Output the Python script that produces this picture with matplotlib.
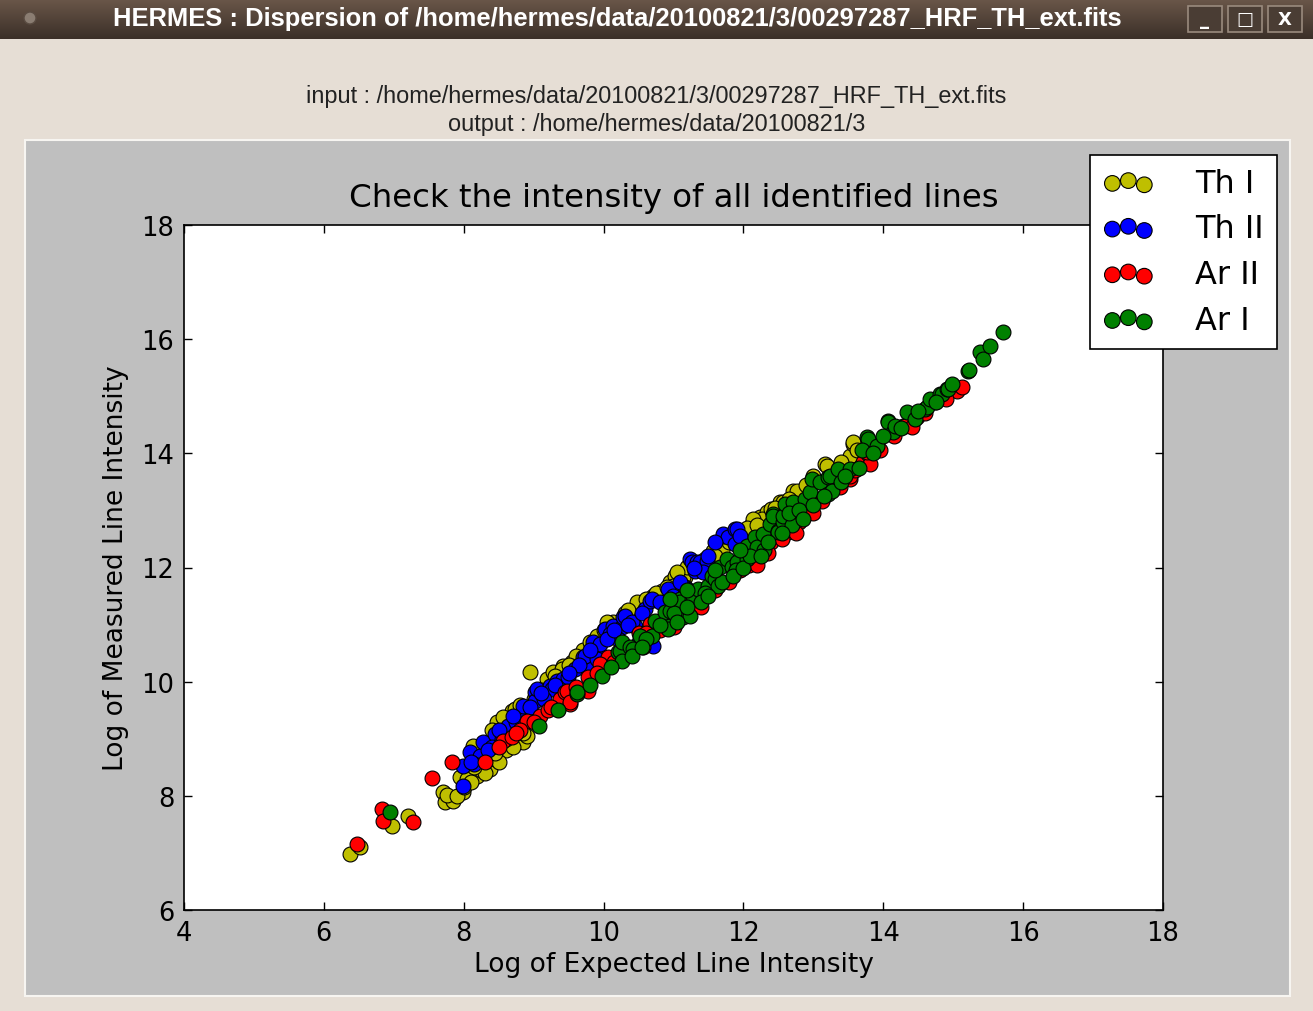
# -*- coding: utf-8 -*-
import numpy as np
import matplotlib
matplotlib.use('Agg')
import matplotlib.pyplot as plt
from matplotlib.patches import Rectangle, Circle

# window / figure texts
win_title = 'HERMES : Dispersion of /home/hermes/data/20100821/3/00297287_HRF_TH_ext.fits'
input_line = 'input : /home/hermes/data/20100821/3/00297287_HRF_TH_ext.fits'
output_line = 'output : /home/hermes/data/20100821/3'
plot_title = 'Check the intensity of all identified lines'
xlabel = 'Log of Expected Line Intensity'
ylabel = 'Log of Measured Line Intensity'
labels = ['Th I', 'Th II', 'Ar II', 'Ar I']
colors = ['y', 'b', 'r', 'g']
ticks = [4, 6, 8, 10, 12, 14, 16, 18]
yticks = [6, 8, 10, 12, 14, 16, 18]

# (log expected, log measured)
th1 = np.array([
    (6.37, 6.98), (6.52, 7.10), (6.97, 7.47), (7.20, 7.65), (7.70, 8.07), (7.73, 7.89),
    (7.85, 7.91), (7.99, 8.07), (7.95, 8.33), (7.76, 8.02), (7.90, 8.00), (8.19, 8.35),
    (8.38, 8.47), (8.13, 8.87), (8.35, 8.82), (8.28, 8.59), (8.56, 9.35), (8.85, 8.94),
    (8.69, 9.49), (8.48, 9.29), (8.73, 9.52), (8.56, 9.38), (8.95, 10.17), (9.19, 10.05),
    (9.28, 10.17), (9.42, 10.27), (9.41, 10.22), (9.10, 9.85), (8.05, 8.30), (8.45, 8.65),
    (8.60, 8.80), (8.25, 8.45), (8.00, 8.15), (8.10, 8.25), (8.30, 8.40), (8.50, 8.60),
    (8.70, 8.85), (8.90, 9.05), (10.13, 11.04), (10.19, 10.97), (10.05, 11.04), (10.52, 11.31),
    (10.48, 11.40), (10.84, 11.59), (10.95, 11.75), (11.06, 11.89), (11.16, 11.83), (11.02, 11.85),
    (11.14, 11.83), (11.19, 12.01), (11.05, 11.92), (10.99, 11.68), (11.56, 12.29), (11.69, 12.29),
    (11.60, 12.20), (11.99, 12.62), (12.12, 12.76), (12.24, 12.88), (12.34, 12.97), (12.27, 12.85),
    (12.14, 12.85), (12.52, 13.15), (12.57, 13.15), (12.71, 13.34), (12.77, 13.34), (13.17, 13.81),
    (13.19, 13.78), (13.52, 13.95), (13.57, 14.16), (13.57, 14.20), (13.62, 14.05), (12.98, 13.06),
    (13.10, 13.20), (9.70, 10.55), (9.80, 10.70), (9.55, 10.35), (10.30, 11.20), (10.70, 11.50),
    (12.40, 13.02), (12.00, 12.45), (11.40, 11.95), (12.60, 12.75), (12.85, 12.95), (13.30, 13.50),
    (9.60, 10.45), (9.90, 10.80), (10.00, 10.90), (10.35, 11.25), (10.60, 11.45), (10.75, 11.55),
    (10.90, 11.65), (11.30, 12.05), (11.45, 12.15), (11.80, 12.45), (11.90, 12.55), (12.05, 12.70),
    (12.20, 12.75), (12.45, 13.05), (12.65, 13.20), (12.90, 13.45), (13.00, 13.60), (13.40, 13.85),
    (8.80, 9.60), (9.00, 9.70), (9.30, 10.10), (9.50, 10.30), (8.40, 9.15), (8.60, 9.00),
    (8.85, 9.10), (9.05, 9.30), (8.15, 8.50), (8.45, 8.75),
])

th2 = np.array([
    (7.99, 8.52), (7.99, 8.17), (8.09, 8.77), (8.23, 8.70), (8.28, 8.94), (8.45, 9.08),
    (8.66, 9.22), (8.63, 9.22), (8.85, 9.47), (8.85, 9.57), (9.02, 9.82), (9.02, 9.66),
    (9.05, 9.87), (9.23, 9.92), (9.26, 9.87), (9.35, 9.52), (9.34, 10.01), (9.42, 10.05),
    (9.49, 10.08), (9.59, 10.22), (9.76, 10.27), (9.71, 10.43), (9.91, 10.52), (9.85, 10.69),
    (10.02, 10.92), (10.13, 10.97), (9.73, 10.45), (9.95, 10.66), (10.09, 10.83), (10.26, 10.96),
    (10.28, 11.13), (10.31, 11.15), (10.45, 10.97), (10.59, 11.27), (10.66, 11.41), (10.69, 11.45),
    (10.71, 10.62), (10.92, 11.62), (10.99, 11.50), (11.16, 11.66), (11.19, 11.62), (11.24, 12.15),
    (11.26, 12.10), (11.34, 12.10), (11.38, 12.10), (11.48, 12.11), (11.31, 11.94), (11.42, 11.92),
    (11.71, 12.55), (11.71, 12.59), (11.78, 12.53), (11.88, 12.67), (11.91, 12.67), (11.88, 12.41),
    (8.15, 8.55), (8.40, 8.85), (8.55, 9.00), (8.75, 9.30), (9.15, 9.70), (9.65, 10.30),
    (10.40, 11.05), (10.20, 10.75), (9.90, 10.40), (8.10, 8.60), (8.35, 8.80), (8.50, 9.15),
    (8.70, 9.40), (8.95, 9.55), (9.10, 9.80), (9.30, 9.95), (9.50, 10.15), (9.80, 10.55),
    (10.05, 10.75), (10.15, 10.90), (10.35, 11.00), (10.55, 11.20), (10.80, 11.40), (11.10, 11.75),
    (11.30, 12.00), (11.50, 12.20), (11.60, 12.45), (11.95, 12.55), (10.50, 10.70),
])

ar2 = np.array([
    (6.47, 7.16), (6.83, 7.77), (6.85, 7.56), (7.27, 7.54), (7.55, 8.32), (7.83, 8.59),
    (8.56, 8.96), (8.69, 9.03), (8.90, 9.31), (9.09, 9.40), (9.38, 9.70), (9.45, 9.82),
    (9.48, 9.84), (9.52, 9.61), (9.52, 9.64), (9.78, 10.08), (9.78, 9.84), (10.00, 10.22),
    (10.06, 10.43), (9.95, 10.31), (10.56, 10.61), (10.66, 11.01), (10.50, 10.85), (12.19, 12.20),
    (12.64, 12.64), (12.64, 12.62), (12.91, 13.02), (12.91, 13.06), (13.12, 13.16), (13.38, 13.41),
    (13.52, 13.55), (13.52, 13.60), (13.71, 13.85), (13.78, 13.99), (13.81, 13.81), (13.77, 14.02),
    (14.28, 14.48), (14.31, 14.48), (14.41, 14.46), (14.48, 14.64), (14.74, 14.90), (15.05, 15.09),
    (15.13, 15.16), (12.08, 12.05), (11.40, 11.30), (11.00, 10.95), (12.40, 12.45), (13.00, 12.95),
    (11.80, 11.75), (9.20, 9.50), (8.80, 9.15), (8.30, 8.60), (10.25, 10.45), (12.20, 12.05),
    (8.50, 8.85), (8.75, 9.10), (9.00, 9.30), (9.25, 9.55), (9.60, 9.90), (9.90, 10.15),
    (10.15, 10.35), (10.35, 10.55), (10.60, 10.85), (10.80, 10.90), (11.10, 11.15), (11.60, 11.60),
    (11.95, 11.95), (12.35, 12.25), (12.55, 12.50), (12.80, 12.80), (13.20, 13.30), (13.60, 13.70),
    (13.95, 14.05), (14.15, 14.30), (14.60, 14.70), (14.90, 14.95), (12.75, 12.60),
])

ar1 = np.array([
    (6.95, 7.72), (9.08, 9.22), (9.62, 9.78), (9.62, 9.82), (9.98, 10.10), (10.21, 10.52),
    (10.23, 10.54), (10.26, 10.69), (10.26, 10.36), (10.38, 10.61), (10.42, 10.57), (10.52, 10.80),
    (10.69, 10.80), (10.74, 11.06), (10.88, 11.04), (10.88, 11.22), (10.92, 10.92), (10.95, 11.24),
    (11.09, 11.45), (11.09, 11.40), (11.14, 11.13), (11.24, 11.15), (11.26, 11.45), (11.28, 11.50),
    (11.35, 11.62), (11.49, 11.68), (11.55, 11.85), (11.59, 11.80), (11.64, 11.68), (11.66, 12.01),
    (11.76, 12.15), (11.84, 12.01), (11.91, 12.10), (12.05, 12.15), (12.05, 12.38), (12.17, 12.53),
    (12.19, 12.36), (12.28, 12.59), (12.38, 12.76), (12.42, 12.94), (12.42, 12.90), (12.49, 12.64),
    (12.49, 12.62), (12.57, 12.80), (12.57, 12.90), (12.59, 13.11), (12.71, 13.02), (12.71, 13.15),
    (12.88, 13.20), (12.95, 13.32), (12.98, 13.55), (13.09, 13.50), (13.21, 13.29), (13.21, 13.58),
    (13.24, 13.60), (13.27, 13.34), (13.35, 13.73), (13.52, 13.73), (13.77, 14.29), (13.78, 14.25),
    (13.91, 14.13), (14.07, 14.57), (14.07, 14.55), (14.14, 14.37), (14.17, 14.48), (14.34, 14.72),
    (14.60, 14.78), (14.62, 14.81), (14.67, 14.95), (14.81, 15.04), (14.84, 15.04), (14.91, 15.13),
    (14.93, 15.13), (14.98, 15.21), (15.21, 15.44), (15.23, 15.46), (15.38, 15.77), (15.43, 15.65),
    (15.53, 15.88), (15.71, 16.12), (11.00, 11.20), (10.60, 10.75), (11.45, 11.55), (11.90, 11.95),
    (12.30, 12.30), (12.70, 12.75), (9.35, 9.50), (9.80, 9.95), (10.10, 10.25), (10.40, 10.45),
    (10.55, 10.60), (10.80, 11.00), (11.05, 11.05), (11.20, 11.30), (11.40, 11.40), (11.50, 11.50),
    (11.70, 11.75), (11.85, 11.85), (12.00, 12.00), (12.10, 12.20), (12.25, 12.20), (12.35, 12.45),
    (12.55, 12.60), (12.65, 12.95), (12.80, 13.00), (12.85, 12.85), (13.00, 13.10), (13.15, 13.25),
    (13.40, 13.50), (13.45, 13.60), (13.65, 13.75), (13.70, 14.05), (13.85, 14.00), (14.00, 14.30),
    (14.25, 14.45), (14.45, 14.60), (14.50, 14.75), (14.75, 14.90), (11.20, 11.60), (11.60, 11.95),
    (11.95, 12.30), (10.95, 11.45),
])

W, H = 1313, 1012
bg = '#e6ded5'
fig = plt.figure(figsize=(W / 100, H / 100), dpi=100, facecolor=bg)

# title bar of the window
bar_h = 40
tb = fig.add_axes([0, 1 - bar_h / H, 1, bar_h / H])
grad = np.linspace(0, 1, 50).reshape(-1, 1)
c_top = np.array([0x6a, 0x57, 0x49]) / 255
c_bot = np.array([0x3b, 0x2f, 0x28]) / 255
img = c_top[None, None, :] * (1 - grad[:, :, None]) + c_bot[None, None, :] * grad[:, :, None]
tb.imshow(img, aspect='auto', extent=[0, W, bar_h, 0])
tb.set_xlim(0, W)
tb.set_ylim(bar_h, 0)
tb.axis('off')
tb.add_patch(Circle((30, 19), 6, facecolor='#8a7d72', edgecolor='#5a4c42', lw=1))
tb.text(617, 19, win_title, color='white', fontsize=18.4, fontweight='bold',
        family=['Liberation Sans', 'DejaVu Sans'], ha='center', va='center')
for bx, sym in [(1188, '_'), (1228, '□'), (1268, 'X')]:
    tb.add_patch(Rectangle((bx, 7), 34, 26, facecolor='#4a3d34', edgecolor='#9a8b7e', lw=1.2))
    tb.text(bx + 17, 20, sym, color='white', fontsize=13, fontweight='bold',
            ha='center', va='center')

# input / output header
fig.text(0.5, 1 - 97 / H, input_line, ha='center', va='center', fontsize=16.9,
         family=['Liberation Sans', 'DejaVu Sans'], color='#222222')
fig.text(0.5, 1 - 125 / H, output_line, ha='center', va='center', fontsize=16.9,
         family=['Liberation Sans', 'DejaVu Sans'], color='#222222')

# gray canvas panel
fig.patches.append(Rectangle((25 / W, 1 - 997 / H), (1290 - 25) / W, (997 - 141) / H,
                             transform=fig.transFigure, facecolor='#bfbfbf',
                             edgecolor='#f7f5f1', lw=1.5, zorder=-5))

ax = fig.add_axes([184 / W, 1 - 911 / H, (1163 - 184) / W, (911 - 226) / H])
ax.set_zorder(2)
for data, c, lab in zip([th1, th2, ar2, ar1], colors, labels):
    ax.scatter(data[:, 0], data[:, 1], s=115, c=c, edgecolors='k', linewidths=0.8, label=lab)

ax.set_xlim(4, 18)
ax.set_ylim(6, 18)
ax.set_xticks(ticks)
ax.set_yticks(yticks)
ax.tick_params(direction='in', top=True, right=True, length=6, width=1,
               labelsize=18.5, pad=7)
for sp in ax.spines.values():
    sp.set_linewidth(1.2)
ax.set_xlabel(xlabel, fontsize=19, labelpad=4)
ax.set_ylabel(ylabel, fontsize=19, labelpad=9)
ax.set_title(plot_title, fontsize=23.3, pad=14)

leg = fig.legend(loc='upper left', bbox_to_anchor=(1090 / W, 1 - 156 / H),
                 scatterpoints=3, fontsize=23, frameon=True, fancybox=False,
                 edgecolor='k', framealpha=1, borderpad=0.4, labelspacing=0.46,
                 handlelength=1.6, handletextpad=1.3, borderaxespad=0, markerscale=1.05)
leg.get_frame().set_linewidth(1.2)
leg.set_zorder(5)

fig.savefig('out.png', dpi=100, facecolor=bg)
